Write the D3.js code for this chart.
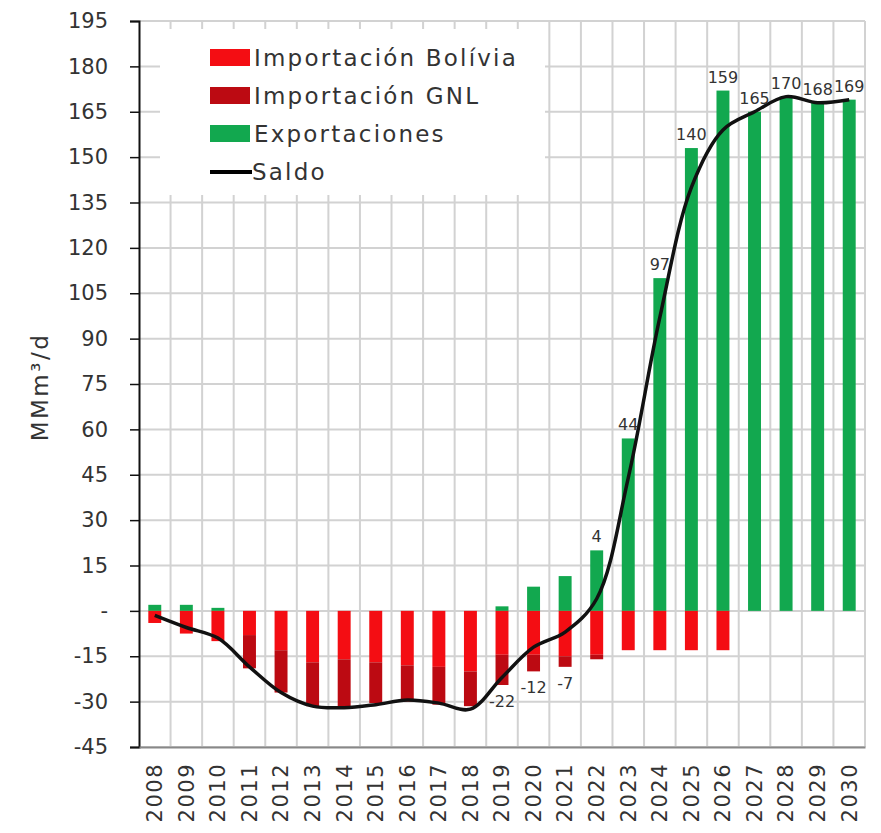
<!DOCTYPE html>
<html>
<head>
<meta charset="utf-8">
<script src="https://cdnjs.cloudflare.com/ajax/libs/d3/7.8.5/d3.min.js"></script>
<style>
  body { margin: 0; background: #fff; }
  text { font-family: "DejaVu Sans", sans-serif; fill: #333; }
</style>
</head>
<body>
<div id="chart"></div>
<script>
// Data (MMm3/d)
var years = ["2008","2009","2010","2011","2012","2013","2014","2015","2016","2017","2018","2019",
             "2020","2021","2022","2023","2024","2025","2026","2027","2028","2029","2030"];
var importBolivia = [4, 7.5, 10, 8, 13, 17, 16, 17, 18, 18.5, 20, 14.5, 14.5, 15, 14.5, 13, 13, 13, 13, 0, 0, 0, 0];
var importGNL     = [0, 0, 0, 11, 14, 14.5, 15.5, 13.5, 12, 12.5, 11.5, 10, 5.5, 3.5, 1.5, 0, 0, 0, 0, 0, 0, 0, 0];
var exports       = [2, 2, 1, 0, 0, 0, 0, 0, 0, 0, 0, 1.5, 8, 11.5, 20, 57, 110, 153, 172, 165, 170, 168, 169];
var saldo         = [-1.5, -5.5, -9, -18.5, -27, -31.5, -32, -31, -29.5, -30.5, -32.5, -22, -12, -7, 4, 44, 97, 140, 159, 165, 170, 168, 169];
var labelYears    = ["2019","2020","2021","2022","2023","2024","2025","2026","2027","2028","2029","2030"];
var yTicks = d3.range(-45, 196, 15);
var legendItems = ["Importación Bolívia", "Importación GNL", "Exportaciones", "Saldo"];

var svgWidth = 881, svgHeight = 833;
var chartMargin = { top: 21, right: 16, bottom: 86, left: 139 };

var colors = { bolivia: "#f40d13", gnl: "#bc0a12", exp: "#12a84f", saldo: "#111" };

var svg = d3.select("#chart")
  .append("svg")
  .attr("width", svgWidth)
  .attr("height", svgHeight);

var x = d3.scaleBand()
  .domain(years)
  .range([chartMargin.left, svgWidth - chartMargin.right])
  .paddingInner(0.59)
  .paddingOuter(0.295);

var y = d3.scaleLinear()
  .domain([-45, 195])
  .range([svgHeight - chartMargin.bottom, chartMargin.top]);

var step = (x.range()[1] - x.range()[0]) / years.length;

// grid
var grid = svg.append("g").attr("stroke", "#d2d2d2").attr("stroke-width", 2);
grid.selectAll("line.h")
  .data(yTicks)
  .enter().append("line")
  .attr("x1", x.range()[0]).attr("x2", x.range()[1])
  .attr("y1", d => y(d)).attr("y2", d => y(d));
grid.selectAll("line.v")
  .data(d3.range(1, years.length + 1))
  .enter().append("line")
  .attr("x1", d => x.range()[0] + d * step).attr("x2", d => x.range()[0] + d * step)
  .attr("y1", y(-45)).attr("y2", y(195));

// bars
var rows = years.map(function(yr, i) {
  return { year: yr, bol: importBolivia[i], gnl: importGNL[i], exp: exports[i], saldo: saldo[i] };
});

svg.append("g").selectAll("rect")
  .data(rows).enter().append("rect")
  .attr("x", d => x(d.year)).attr("width", x.bandwidth())
  .attr("y", d => y(d.exp)).attr("height", d => y(0) - y(d.exp))
  .attr("fill", colors.exp);

svg.append("g").selectAll("rect")
  .data(rows).enter().append("rect")
  .attr("x", d => x(d.year)).attr("width", x.bandwidth())
  .attr("y", y(0)).attr("height", d => y(-d.bol) - y(0))
  .attr("fill", colors.bolivia);

svg.append("g").selectAll("rect")
  .data(rows).enter().append("rect")
  .attr("x", d => x(d.year)).attr("width", x.bandwidth())
  .attr("y", d => y(-d.bol)).attr("height", d => y(-d.bol - d.gnl) - y(-d.bol))
  .attr("fill", colors.gnl);

// saldo line
var line = d3.line()
  .x(d => x(d.year) + x.bandwidth() / 2)
  .y(d => y(d.saldo))
  .curve(d3.curveCatmullRom.alpha(0.5));

svg.append("path")
  .datum(rows)
  .attr("d", line)
  .attr("fill", "none")
  .attr("stroke", colors.saldo)
  .attr("stroke-width", 3.5);

// data labels
svg.append("g").selectAll("text")
  .data(rows.filter(d => labelYears.indexOf(d.year) >= 0))
  .enter().append("text")
  .attr("x", d => x(d.year) + x.bandwidth() / 2)
  .attr("y", function(d) {
    if (d.saldo >= 0) return y(d.exp) - 8;
    return Math.max(y(-d.bol - d.gnl), y(d.saldo)) + 22;
  })
  .attr("text-anchor", "middle")
  .style("font-size", "16px")
  .text(d => Math.round(d.saldo));

// axes
var yAxis = svg.append("g")
  .attr("transform", "translate(" + chartMargin.left + ",0)")
  .call(d3.axisLeft(y).tickValues(yTicks).tickSize(9).tickPadding(22)
    .tickFormat(d => d === 0 ? "-" : d));
yAxis.select(".domain").attr("stroke", "#111").attr("stroke-width", 2);
yAxis.selectAll(".tick line").attr("stroke", "#111").attr("stroke-width", 1.5);
yAxis.selectAll("text").style("font-size", "21px").attr("fill", "#333");

var xAxis = svg.append("g")
  .attr("transform", "translate(0," + y(-45) + ")")
  .call(d3.axisBottom(x).tickSize(0).tickPadding(0));
xAxis.select(".domain").attr("stroke", "#888").attr("stroke-width", 2);
xAxis.selectAll("text")
  .style("font-size", "21px").style("letter-spacing", "1.5px").attr("fill", "#333")
  .attr("text-anchor", "end")
  .attr("dy", "0.35em")
  .attr("transform", "translate(0,16) rotate(-90)");

svg.append("text")
  .attr("transform", "translate(48,387) rotate(-90)")
  .attr("text-anchor", "middle")
  .style("font-size", "23px")
  .style("letter-spacing", "2.5px")
  .text("MMm³/d");

// legend
svg.append("rect")
  .attr("x", 160).attr("y", 29).attr("width", 385).attr("height", 166)
  .attr("fill", "#fff");

var legend = svg.append("g").selectAll("g")
  .data(legendItems).enter().append("g")
  .attr("transform", (d, i) => "translate(210," + (58 + i * 38) + ")");

legend.filter((d, i) => i < 3).append("rect")
  .attr("x", 0).attr("y", -9).attr("width", 40).attr("height", 17)
  .attr("fill", (d, i) => [colors.bolivia, colors.gnl, colors.exp][i]);
legend.filter((d, i) => i === 3).append("line")
  .attr("x1", 0).attr("x2", 42).attr("stroke", "#000").attr("stroke-width", 4);
legend.append("text")
  .attr("x", (d, i) => i === 3 ? 42 : 44)
  .attr("dy", "0.36em")
  .style("font-size", "23px")
  .style("letter-spacing", "2.2px")
  .text(d => d);
</script>
</body>
</html>
